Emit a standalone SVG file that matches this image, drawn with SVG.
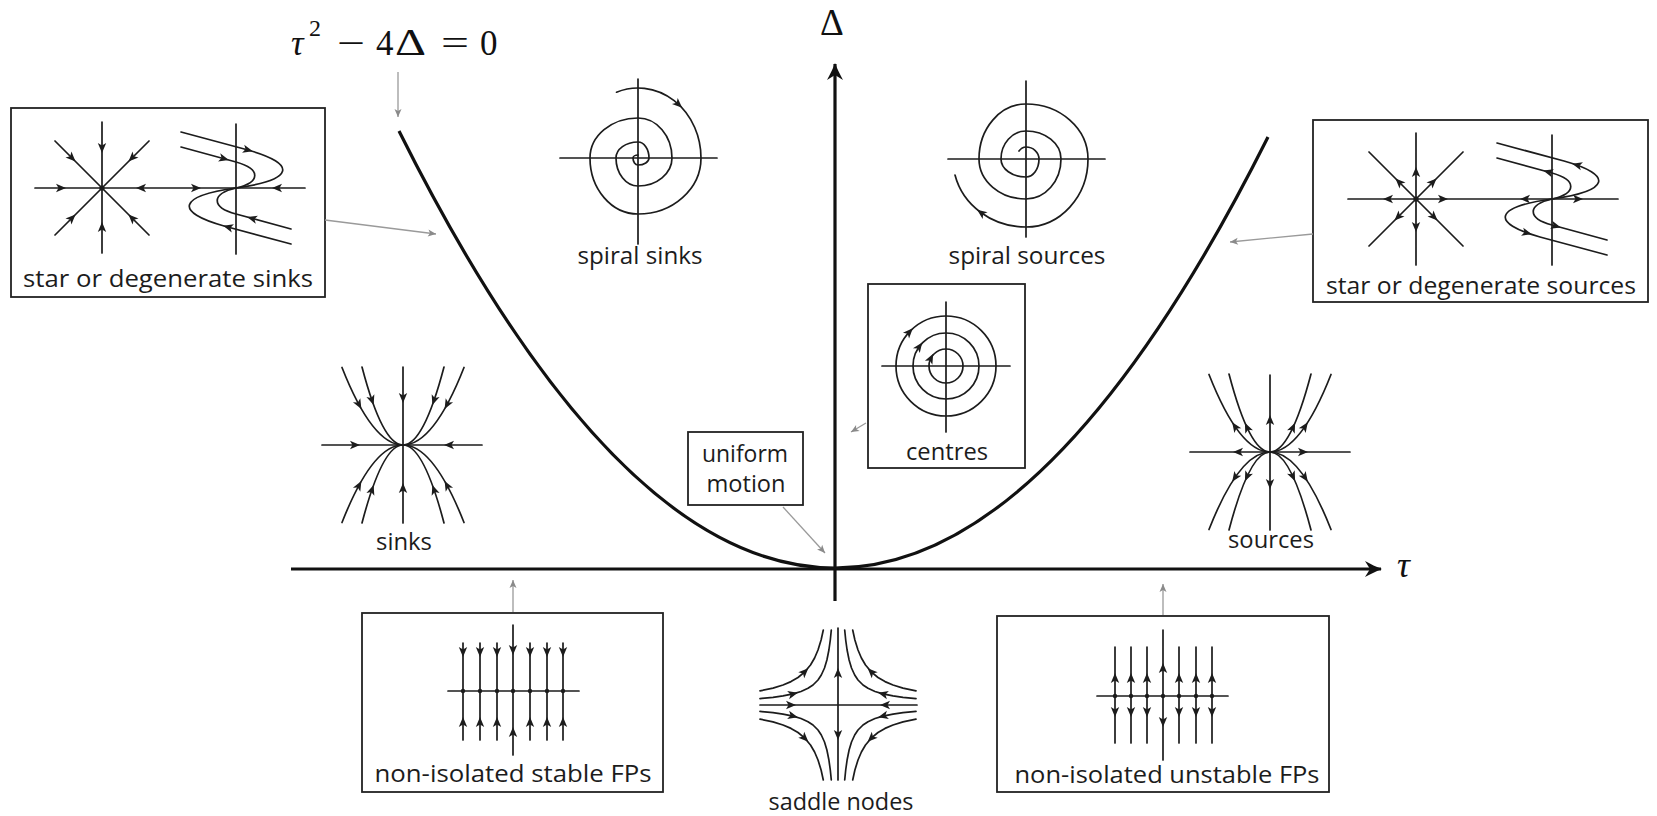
<svg xmlns="http://www.w3.org/2000/svg" xmlns:xlink="http://www.w3.org/1999/xlink" width="1657" height="816" viewBox="0 0 1657 816">
<style>
.ln{stroke:#1c1c1c;stroke-width:1.7;fill:none;stroke-linejoin:round;stroke-linecap:round}
.thick{stroke:#111;stroke-width:3.2;fill:none}
.box{fill:none;stroke:#222;stroke-width:1.8}
.lbl{font-family:"Open Sans","DejaVu Sans",sans-serif;font-size:24px;fill:#1c1c1c;text-anchor:middle}
.math{font-family:"Liberation Serif","Times New Roman",serif;fill:#111}
.conn{stroke:#9a9a9a;stroke-width:1.3;fill:none}
.dot{fill:#1c1c1c}
</style>
<defs>
<path id="ah" d="M 5,0 L -5,-4.2 L -2.5,0 L -5,4.2 Z" fill="#1c1c1c"/>
<marker id="mg" viewBox="-5 -5 10 10" refX="4" refY="0" markerWidth="10" markerHeight="10" orient="auto" markerUnits="userSpaceOnUse">
<path d="M 4,0 L -4,-3.5 L -2,0 L -4,3.5 Z" fill="#8a8a8a"/>
</marker>
<marker id="axm" viewBox="-18 -10 20 20" refX="0" refY="0" markerWidth="20" markerHeight="20" orient="auto" markerUnits="userSpaceOnUse">
<path d="M 1,0 C -5,-2 -10,-5 -16,-8 L -11,0 L -16,8 C -10,5 -5,2 1,0 Z" fill="#111"/>
</marker>
<g id="nodeCurves">
<path class="ln" d="M -61,-77.5 Q -30.5,0 0,0 Q 30.5,0 61,-77.5 M -61,77.5 Q -30.5,0 0,0 Q 30.5,0 61,77.5"/>
<path class="ln" d="M -41,-78 Q -20.5,0 0,0 Q 20.5,0 41,-78 M -41,78 Q -20.5,0 0,0 Q 20.5,0 41,78"/>
</g>
<g id="degCurves">
<path class="ln" d="M -55,-56 L 12,-38 C 62,-24 58,-8 0,0 C -58,8 -62,24 -12,38 L 55,56"/>
<path class="ln" d="M -55,-41 L 0,-26 C 25,-19 25,-6 0,0 C -25,6 -25,19 0,26 L 55,41"/>
</g>
<g id="saddleQ">
<path class="ln" d="M -78,-6.4 L -65,-7.7 L -55,-9.1 L -45,-11.1 L -37,-13.5 L -30,-16.7 L -25,-20 L -20,-25 L -16.7,-30 L -13.5,-37 L -11.1,-45 L -9.1,-55 L -7.7,-65 L -6.7,-75"/>
<path class="ln" d="M -78,-14.1 L -65,-16.9 L -55,-20 L -47,-23.4 L -40,-27.5 L -33.2,-33.2 L -27.5,-40 L -23.4,-47 L -20,-55 L -16.9,-65 L -14.7,-75"/>
<use href="#ah" transform="translate(-33.2 -33.2) rotate(-45)"/>
<use href="#ah" transform="translate(-45 -11.1) rotate(-14)"/>
</g>
</defs>
<rect x="0" y="0" width="1657" height="816" fill="#ffffff"/>

<g id="axes">
<path class="thick" d="M 291,569 L 1381,569" marker-end="url(#axm)"/>
<path class="thick" d="M 835,601 L 835,64" marker-end="url(#axm)"/>
<path class="thick" d="M 399,131 Q 617,568 835,568 Q 1052,568 1268,137"/>
<text class="math" x="832" y="35" font-size="37" text-anchor="middle">Δ</text>
<text class="math" x="1397" y="577" font-size="36" font-style="italic">τ</text>
</g>

<g id="formula">
<text class="math" y="55" font-size="35"><tspan x="291" font-style="italic">τ</tspan><tspan x="309" y="36" font-size="24">2</tspan><tspan x="337" y="55" textLength="28" lengthAdjust="spacingAndGlyphs">−</tspan><tspan x="376" y="55">4</tspan><tspan x="395" y="55" font-size="38" textLength="31" lengthAdjust="spacingAndGlyphs">Δ</tspan><tspan x="441" y="55" textLength="28" lengthAdjust="spacingAndGlyphs">=</tspan><tspan x="480" y="55">0</tspan></text>
</g>

<g id="star-degenerate-sinks">
<rect class="box" x="11" y="108" width="314" height="189"/>
<path class="ln" d="M 102,122 V 253 M 35,188 H 305 M 55,141 L 149,235 M 149,141 L 55,235"/>
<circle class="dot" cx="102" cy="188" r="2.6"/>
<g transform="translate(102 188)">
<use href="#ah" transform="translate(0 -40) rotate(90)"/>
<use href="#ah" transform="translate(0 39) rotate(-90)"/>
<use href="#ah" transform="translate(-41 0) rotate(0)"/>
<use href="#ah" transform="translate(39 0) rotate(180)"/>
<use href="#ah" transform="translate(-30 -30) rotate(45)"/>
<use href="#ah" transform="translate(30 -30) rotate(135)"/>
<use href="#ah" transform="translate(-30 30) rotate(-45)"/>
<use href="#ah" transform="translate(30 30) rotate(-135)"/>
</g>
<path class="ln" d="M 236,124 V 254"/>
<g transform="translate(236 188)">
<use href="#degCurves"/>
<use href="#ah" transform="translate(-40 0) rotate(0)"/>
<use href="#ah" transform="translate(41 0) rotate(180)"/>
<use href="#ah" transform="translate(12 -38) rotate(15)"/>
<use href="#ah" transform="translate(-12 -29.3) rotate(15)"/>
<use href="#ah" transform="translate(-8 39.1) rotate(195)"/>
<use href="#ah" transform="translate(16 30.4) rotate(195)"/>
</g>
<text class="lbl" x="168" y="287" textLength="290" lengthAdjust="spacingAndGlyphs">star or degenerate sinks</text>
</g>

<g id="star-degenerate-sources">
<rect class="box" x="1313" y="120" width="335" height="182"/>
<path class="ln" d="M 1416,133 V 265 M 1348,199 H 1618 M 1369,152 L 1463,246 M 1463,152 L 1369,246"/>
<circle class="dot" cx="1416" cy="199" r="2.6"/>
<g transform="translate(1416 199)">
<use href="#ah" transform="translate(0 -27) rotate(-90)"/>
<use href="#ah" transform="translate(0 28) rotate(90)"/>
<use href="#ah" transform="translate(-28 0) rotate(180)"/>
<use href="#ah" transform="translate(27 0) rotate(0)"/>
<use href="#ah" transform="translate(-17 -17) rotate(-135)"/>
<use href="#ah" transform="translate(17 -17) rotate(-45)"/>
<use href="#ah" transform="translate(-18 18) rotate(135)"/>
<use href="#ah" transform="translate(18 18) rotate(45)"/>
</g>
<path class="ln" d="M 1552,135 V 265"/>
<g transform="translate(1552 199)">
<use href="#degCurves"/>
<use href="#ah" transform="translate(-27 0) rotate(180)"/>
<use href="#ah" transform="translate(26 0) rotate(0)"/>
<use href="#ah" transform="translate(25 -34) rotate(195)"/>
<use href="#ah" transform="translate(-4 -27.1) rotate(195)"/>
<use href="#ah" transform="translate(4 27.1) rotate(15)"/>
<use href="#ah" transform="translate(-25 34) rotate(15)"/>
</g>
<text class="lbl" x="1481" y="294" textLength="310" lengthAdjust="spacingAndGlyphs">star or degenerate sources</text>
</g>

<g id="spiral-sinks">
<g transform="translate(638 158)">
<path class="ln" d="M -78,0 H 79 M 0,-79 V 86"/>
<path class="ln" d="M -21.5,-65.8 A 63 70 0 0 1 63 0 A 63 56 0 0 1 0 56 A 48 56 0 0 1 -48 0 A 48 40 0 0 1 0 -40 A 34 40 0 0 1 34 0 A 34 28 0 0 1 0 28 A 22 28 0 0 1 -22 0 A 22 16 0 0 1 0 -16 A 11 16 0 0 1 11 0 A 11 7 0 0 1 0 7 A 5 7 0 0 1 -5 0 A 5 3 0 0 1 0 -3"/>
<use href="#ah" transform="translate(40.5 -53.6) rotate(43)"/>
</g>
<text class="lbl" x="640" y="264" textLength="125" lengthAdjust="spacingAndGlyphs">spiral sinks</text>
</g>

<g id="spiral-sources">
<g transform="translate(1026 159)">
<path class="ln" d="M -78,0 H 79 M 0,-78 V 78"/>
<path class="ln" d="M -7,-8 Q -4,-12 0,-12 A 13 12 0 0 1 13 0 A 13 18 0 0 1 0 18 A 25 18 0 0 1 -25 0 A 25 28 0 0 1 0 -28 A 35 28 0 0 1 35 0 A 35 40 0 0 1 0 40 A 47 40 0 0 1 -47 0 A 47 55 0 0 1 0 -55 A 62 55 0 0 1 62 0 A 62 68 0 0 1 0 68 A 73 68 0 0 1 -71 16"/>
<use href="#ah" transform="translate(-44.9 53.6) rotate(-144)"/>
</g>
<text class="lbl" x="1027" y="264" textLength="157" lengthAdjust="spacingAndGlyphs">spiral sources</text>
</g>

<g id="centres">
<rect class="box" x="868" y="284" width="157" height="184"/>
<g transform="translate(946 366)">
<path class="ln" d="M -64,0 H 64 M 0,-64 V 66"/>
<circle class="ln" cx="0" cy="0" r="17"/>
<circle class="ln" cx="0" cy="0" r="33"/>
<circle class="ln" cx="0" cy="0" r="50"/>
<use href="#ah" transform="translate(-36.6 -34.1) rotate(-47)"/>
<use href="#ah" transform="translate(-26.7 -19.4) rotate(-54)"/>
<use href="#ah" transform="translate(-15.1 -7.7) rotate(-63)"/>
</g>
<text class="lbl" x="947" y="460" textLength="82" lengthAdjust="spacingAndGlyphs">centres</text>
</g>

<g id="uniform-motion">
<rect class="box" x="688" y="432" width="115" height="73"/>
<text class="lbl" x="745" y="462" textLength="86" lengthAdjust="spacingAndGlyphs">uniform</text>
<text class="lbl" x="746" y="492" textLength="79" lengthAdjust="spacingAndGlyphs">motion</text>
</g>

<g id="sinks">
<g transform="translate(403 445)">
<path class="ln" d="M 0,-78 V 78 M -81,0 H 79"/>
<use href="#nodeCurves"/>
<use href="#ah" transform="translate(0 -47) rotate(90)"/>
<use href="#ah" transform="translate(0 43) rotate(-90)"/>
<use href="#ah" transform="translate(-48 0) rotate(0)"/>
<use href="#ah" transform="translate(46 0) rotate(180)"/>
<use href="#ah" transform="translate(-44 -40.3) rotate(61.4)"/>
<use href="#ah" transform="translate(44 -40.3) rotate(118.6)"/>
<use href="#ah" transform="translate(-44 40.3) rotate(-61.4)"/>
<use href="#ah" transform="translate(44 40.3) rotate(-118.6)"/>
<use href="#ah" transform="translate(-31 -44.7) rotate(70.9)"/>
<use href="#ah" transform="translate(31 -44.7) rotate(109.1)"/>
<use href="#ah" transform="translate(-31 44.7) rotate(-70.9)"/>
<use href="#ah" transform="translate(31 44.7) rotate(-109.1)"/>
</g>
<text class="lbl" x="404" y="550" textLength="56" lengthAdjust="spacingAndGlyphs">sinks</text>
</g>

<g id="sources">
<g transform="translate(1270 452)">
<path class="ln" d="M 0,-77 V 78 M -80,0 H 80"/>
<use href="#nodeCurves"/>
<use href="#ah" transform="translate(0 -32) rotate(-90)"/>
<use href="#ah" transform="translate(0 32) rotate(90)"/>
<use href="#ah" transform="translate(-32 0) rotate(180)"/>
<use href="#ah" transform="translate(33 0) rotate(0)"/>
<use href="#ah" transform="translate(-35 -25.5) rotate(-124.4)"/>
<use href="#ah" transform="translate(35 -25.5) rotate(-55.6)"/>
<use href="#ah" transform="translate(-35 25.5) rotate(124.4)"/>
<use href="#ah" transform="translate(35 25.5) rotate(55.6)"/>
<use href="#ah" transform="translate(-23 -24.6) rotate(-115)"/>
<use href="#ah" transform="translate(23 -24.6) rotate(-65)"/>
<use href="#ah" transform="translate(-23 24.6) rotate(115)"/>
<use href="#ah" transform="translate(23 24.6) rotate(65)"/>
</g>
<text class="lbl" x="1271" y="548" textLength="86" lengthAdjust="spacingAndGlyphs">sources</text>
</g>

<g id="saddle-nodes">
<g transform="translate(838 705)">
<path class="ln" d="M 0,-77 V 75 M -78,0 H 79"/>
<use href="#saddleQ"/>
<use href="#saddleQ" transform="scale(-1 1)"/>
<use href="#saddleQ" transform="scale(1 -1)"/>
<use href="#saddleQ" transform="scale(-1 -1)"/>
<use href="#ah" transform="translate(-47 0) rotate(0)"/>
<use href="#ah" transform="translate(47 0) rotate(180)"/>
<use href="#ah" transform="translate(0 -32) rotate(-90)"/>
<use href="#ah" transform="translate(0 30) rotate(90)"/>
</g>
<text class="lbl" x="841" y="810" textLength="145" lengthAdjust="spacingAndGlyphs">saddle nodes</text>
</g>

<g id="non-isolated-stable">
<rect class="box" x="362" y="613" width="301" height="179"/>
<path class="ln" d="M 448,691 H 579 M 463,643 V 740 M 480,643 V 740 M 497,643 V 740 M 513,625 V 755 M 530,643 V 740 M 547,643 V 740 M 563,643 V 740"/>
<g class="dot">
<circle cx="463" cy="691" r="2.2"/><circle cx="480" cy="691" r="2.2"/><circle cx="497" cy="691" r="2.2"/><circle cx="513" cy="691" r="2.2"/><circle cx="530" cy="691" r="2.2"/><circle cx="547" cy="691" r="2.2"/><circle cx="563" cy="691" r="2.2"/>
</g>
<use href="#ah" transform="translate(463 652) rotate(90)"/>
<use href="#ah" transform="translate(480 652) rotate(90)"/>
<use href="#ah" transform="translate(497 652) rotate(90)"/>
<use href="#ah" transform="translate(513 650) rotate(90)"/>
<use href="#ah" transform="translate(530 652) rotate(90)"/>
<use href="#ah" transform="translate(547 652) rotate(90)"/>
<use href="#ah" transform="translate(563 652) rotate(90)"/>
<use href="#ah" transform="translate(463 722) rotate(-90)"/>
<use href="#ah" transform="translate(480 722) rotate(-90)"/>
<use href="#ah" transform="translate(497 722) rotate(-90)"/>
<use href="#ah" transform="translate(513 732) rotate(-90)"/>
<use href="#ah" transform="translate(530 722) rotate(-90)"/>
<use href="#ah" transform="translate(547 722) rotate(-90)"/>
<use href="#ah" transform="translate(563 722) rotate(-90)"/>
<text class="lbl" x="513" y="782" textLength="277" lengthAdjust="spacingAndGlyphs">non-isolated stable FPs</text>
</g>

<g id="non-isolated-unstable">
<rect class="box" x="997" y="616" width="332" height="176"/>
<path class="ln" d="M 1097,696 H 1228 M 1115,647 V 743 M 1131,647 V 743 M 1147,647 V 743 M 1163,630 V 760 M 1179,647 V 743 M 1196,647 V 743 M 1212,647 V 743"/>
<g class="dot">
<circle cx="1115" cy="696" r="2.2"/><circle cx="1131" cy="696" r="2.2"/><circle cx="1147" cy="696" r="2.2"/><circle cx="1163" cy="696" r="2.2"/><circle cx="1179" cy="696" r="2.2"/><circle cx="1196" cy="696" r="2.2"/><circle cx="1212" cy="696" r="2.2"/>
</g>
<use href="#ah" transform="translate(1115 678) rotate(-90)"/>
<use href="#ah" transform="translate(1131 678) rotate(-90)"/>
<use href="#ah" transform="translate(1147 678) rotate(-90)"/>
<use href="#ah" transform="translate(1163 668) rotate(-90)"/>
<use href="#ah" transform="translate(1179 678) rotate(-90)"/>
<use href="#ah" transform="translate(1196 678) rotate(-90)"/>
<use href="#ah" transform="translate(1212 678) rotate(-90)"/>
<use href="#ah" transform="translate(1115 712) rotate(90)"/>
<use href="#ah" transform="translate(1131 712) rotate(90)"/>
<use href="#ah" transform="translate(1147 712) rotate(90)"/>
<use href="#ah" transform="translate(1163 722) rotate(90)"/>
<use href="#ah" transform="translate(1179 712) rotate(90)"/>
<use href="#ah" transform="translate(1196 712) rotate(90)"/>
<use href="#ah" transform="translate(1212 712) rotate(90)"/>
<text class="lbl" x="1167" y="783" textLength="305" lengthAdjust="spacingAndGlyphs">non-isolated unstable FPs</text>
</g>

<g id="connectors">
<path class="conn" d="M 398,72 L 398,117" marker-end="url(#mg)"/>
<path class="conn" d="M 325,220 L 436,234" marker-end="url(#mg)"/>
<path class="conn" d="M 1313,234 L 1230,242" marker-end="url(#mg)"/>
<path class="conn" d="M 783,507 L 825,553" marker-end="url(#mg)"/>
<path class="conn" d="M 866,423 L 851,432" marker-end="url(#mg)"/>
<path class="conn" d="M 513,612 L 513,580" marker-end="url(#mg)"/>
<path class="conn" d="M 1163,615 L 1163,584" marker-end="url(#mg)"/>
</g>
</svg>
